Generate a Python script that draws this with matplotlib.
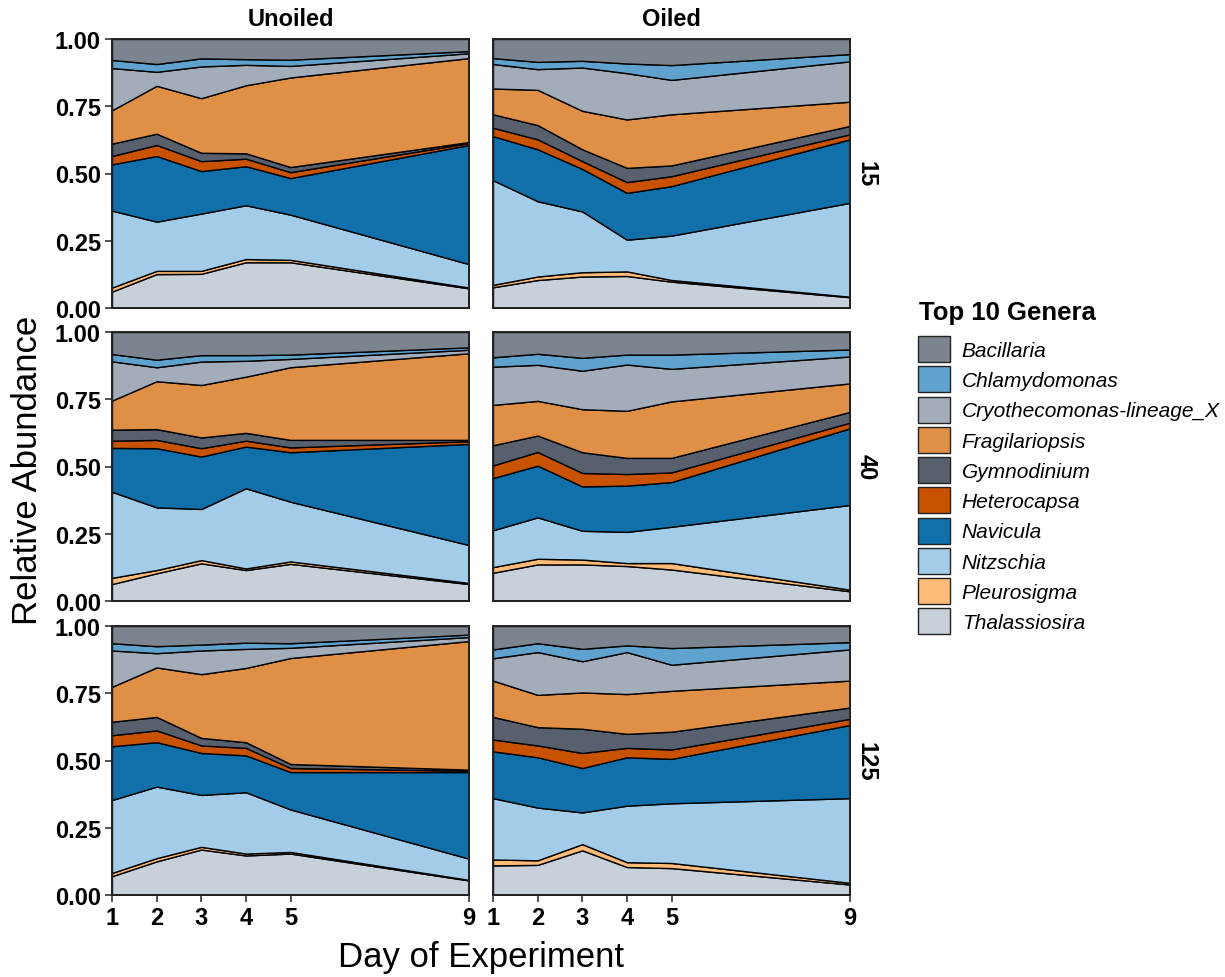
import numpy as np
import matplotlib
matplotlib.use("Agg")
import matplotlib.pyplot as plt
from matplotlib.patches import Patch

plt.rcParams['font.family'] = ['Liberation Sans', 'DejaVu Sans']

days = [1, 2, 3, 4, 5, 9]
treatments = ["Unoiled", "Oiled"]
doses = ["15", "40", "125"]

# genera, stacked from the bottom up
genera = ["Thalassiosira", "Pleurosigma", "Nitzschia", "Navicula", "Heterocapsa",
          "Gymnodinium", "Fragilariopsis", "Cryothecomonas-lineage_X",
          "Chlamydomonas", "Bacillaria"]
colors = ["#c8d0d9", "#ffbc79", "#a3cce9", "#1170aa", "#c85200",
          "#57606c", "#e08f47", "#a3acb9", "#5fa2ce", "#7b848f"]

# cumulative top of each genus (bottom-up, Bacillaria reaches 1.0), per day
unoiled_15 = [
    [0.061, 0.126, 0.127, 0.170, 0.170, 0.073],
    [0.076, 0.138, 0.138, 0.182, 0.179, 0.076],
    [0.362, 0.321, 0.351, 0.382, 0.347, 0.163],
    [0.534, 0.565, 0.509, 0.527, 0.483, 0.606],
    [0.565, 0.606, 0.546, 0.555, 0.505, 0.613],
    [0.611, 0.648, 0.577, 0.575, 0.524, 0.617],
    [0.735, 0.826, 0.780, 0.828, 0.857, 0.929],
    [0.892, 0.878, 0.898, 0.904, 0.900, 0.947],
    [0.922, 0.907, 0.928, 0.925, 0.923, 0.955],
]
oiled_15 = [
    [0.077, 0.104, 0.117, 0.119, 0.098, 0.040],
    [0.086, 0.117, 0.133, 0.136, 0.104, 0.042],
    [0.475, 0.397, 0.359, 0.254, 0.269, 0.391],
    [0.639, 0.590, 0.517, 0.428, 0.453, 0.627],
    [0.670, 0.627, 0.546, 0.468, 0.490, 0.646],
    [0.720, 0.680, 0.590, 0.521, 0.530, 0.677],
    [0.816, 0.811, 0.733, 0.701, 0.720, 0.767],
    [0.907, 0.888, 0.894, 0.873, 0.848, 0.917],
    [0.929, 0.915, 0.919, 0.909, 0.903, 0.944],
]
unoiled_40 = [
    [0.063, 0.103, 0.140, 0.115, 0.138, 0.063],
    [0.086, 0.115, 0.152, 0.121, 0.147, 0.067],
    [0.406, 0.348, 0.342, 0.419, 0.369, 0.208],
    [0.569, 0.568, 0.537, 0.574, 0.553, 0.584],
    [0.596, 0.599, 0.568, 0.596, 0.571, 0.594],
    [0.637, 0.639, 0.608, 0.625, 0.599, 0.599],
    [0.745, 0.817, 0.803, 0.834, 0.869, 0.921],
    [0.891, 0.869, 0.890, 0.893, 0.900, 0.934],
    [0.918, 0.897, 0.914, 0.914, 0.916, 0.943],
]
oiled_40 = [
    [0.105, 0.136, 0.136, 0.130, 0.117, 0.036],
    [0.126, 0.157, 0.154, 0.141, 0.141, 0.042],
    [0.263, 0.311, 0.261, 0.257, 0.276, 0.357],
    [0.457, 0.503, 0.426, 0.429, 0.442, 0.642],
    [0.504, 0.554, 0.476, 0.472, 0.478, 0.663],
    [0.579, 0.615, 0.553, 0.532, 0.532, 0.703],
    [0.729, 0.744, 0.713, 0.707, 0.742, 0.809],
    [0.871, 0.878, 0.856, 0.879, 0.863, 0.909],
    [0.906, 0.919, 0.904, 0.916, 0.916, 0.935],
]
unoiled_125 = [
    [0.070, 0.125, 0.169, 0.147, 0.154, 0.054],
    [0.082, 0.137, 0.179, 0.154, 0.160, 0.056],
    [0.353, 0.403, 0.372, 0.382, 0.318, 0.135],
    [0.553, 0.568, 0.528, 0.519, 0.457, 0.457],
    [0.594, 0.612, 0.556, 0.547, 0.472, 0.462],
    [0.644, 0.662, 0.584, 0.568, 0.487, 0.466],
    [0.774, 0.846, 0.821, 0.844, 0.881, 0.944],
    [0.909, 0.899, 0.909, 0.915, 0.919, 0.959],
    [0.936, 0.925, 0.931, 0.938, 0.936, 0.968],
]
oiled_125 = [
    [0.110, 0.112, 0.166, 0.104, 0.100, 0.039],
    [0.132, 0.129, 0.189, 0.122, 0.119, 0.045],
    [0.360, 0.325, 0.307, 0.332, 0.341, 0.360],
    [0.534, 0.512, 0.472, 0.512, 0.506, 0.632],
    [0.578, 0.556, 0.528, 0.547, 0.541, 0.655],
    [0.662, 0.624, 0.618, 0.599, 0.607, 0.697],
    [0.797, 0.744, 0.753, 0.747, 0.759, 0.797],
    [0.880, 0.903, 0.869, 0.903, 0.856, 0.913],
    [0.913, 0.936, 0.915, 0.928, 0.918, 0.940],
]

panels = [[unoiled_15, oiled_15], [unoiled_40, oiled_40], [unoiled_125, oiled_125]]

W, H = 1225, 978
fig = plt.figure(figsize=(W / 100, H / 100), dpi=100)

col_x = [112, 493]
col_w = 357
row_top = [40, 333, 627]
row_h = 269

for r in range(3):
    for c in range(2):
        ax = fig.add_axes([col_x[c] / W, 1 - (row_top[r] + row_h) / H, col_w / W, row_h / H])
        tops = np.array(panels[r][c])
        full = np.vstack([np.zeros(len(days)), tops, np.ones(len(days))])
        vals = np.diff(full, axis=0)
        ax.stackplot(days, vals, colors=colors, edgecolor="black", linewidth=1.0)
        ax.set_xlim(1, 9)
        ax.set_ylim(0, 1)
        for sp in ax.spines.values():
            sp.set_linewidth(1.4)
            sp.set_color("#222222")
            sp.set_zorder(5)
        ax.set_yticks([0, 0.25, 0.5, 0.75, 1.0])
        ax.set_xticks(days)
        ax.tick_params(direction="out", length=5, width=1.2, color="#333333",
                       labelsize=17, pad=3)
        if c == 0:
            ax.set_yticklabels(["0.00", "0.25", "0.50", "0.75", "1.00"], fontweight="bold")
        else:
            ax.tick_params(axis="y", left=False, labelleft=False)
        if r == 2:
            ax.set_xticklabels([str(d) for d in days], fontweight="bold")
        else:
            ax.tick_params(axis="x", bottom=False, labelbottom=False)
        if r == 0:
            ax.text(0.5, 1.0 + 20 / row_h, treatments[c], transform=ax.transAxes,
                    ha="center", va="center", fontsize=17, fontweight="bold")
        if c == 1:
            ax.text(1.0 + 16 / col_w, 0.5, doses[r], transform=ax.transAxes,
                    ha="center", va="center", rotation=-90, fontsize=17,
                    fontweight="bold")

fig.text(28 / W, 1 - 470 / H, "Relative Abundance", rotation=90, ha="center",
         va="center", fontsize=25)
fig.text(481 / W, 1 - 958 / H, "Day of Experiment", ha="center", va="center",
         fontsize=25)

# legend, top to bottom as in the reference
fig.text(919 / W, 1 - 313 / H, "Top 10 Genera", ha="left", va="center",
         fontsize=18.5, fontweight="bold")
handles = [Patch(facecolor=col, edgecolor="#222222", linewidth=1.0)
           for col in colors[::-1]]
leg = fig.legend(handles, genera[::-1], loc="upper left",
                 bbox_to_anchor=(918 / W, 1 - 337 / H), frameon=False,
                 prop={"size": 15, "style": "italic"},
                 handlelength=1.55, handleheight=1.55, handletextpad=0.55,
                 labelspacing=0.2, borderpad=0, borderaxespad=0)

fig.savefig("out.png", dpi=100)
